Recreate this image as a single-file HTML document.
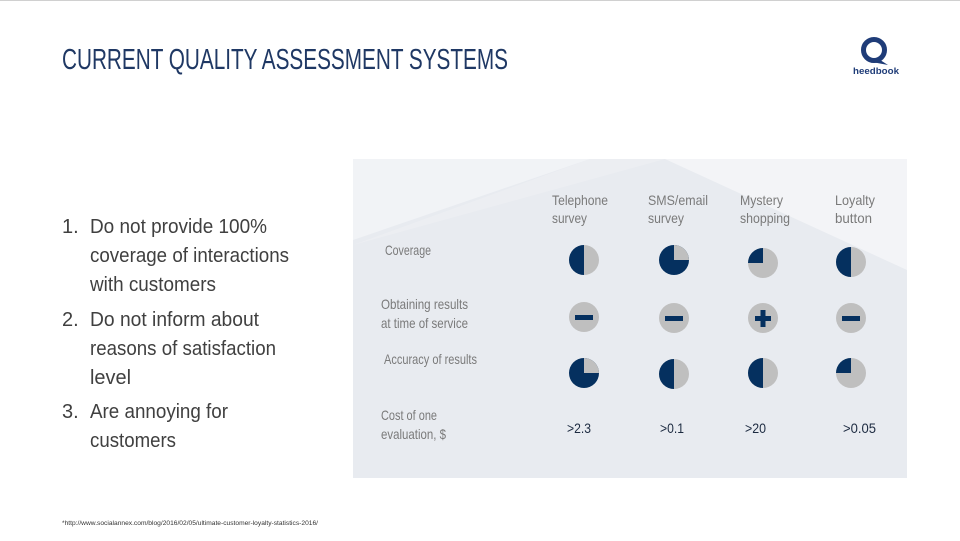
<!DOCTYPE html>
<html><head><meta charset="utf-8"><style>
html,body{margin:0;padding:0;background:#fff;}
svg{display:block;}
text{font-family:"Liberation Sans Narrow","Liberation Sans",sans-serif;}
</style></head><body>
<svg width="960" height="541" viewBox="0 0 960 541" xmlns="http://www.w3.org/2000/svg">
<rect x="0" y="0" width="960" height="541" fill="#fff"/>
<line x1="0" y1="0.5" x2="960" y2="0.5" stroke="#d0d0d0"/>
<text x="62" y="69" font-size="29" fill="#1f3864" textLength="446" lengthAdjust="spacingAndGlyphs">CURRENT QUALITY ASSESSMENT SYSTEMS</text>
<!-- logo -->
<circle cx="874" cy="50" r="10.5" fill="none" stroke="#1f3c78" stroke-width="5"/>
<path d="M877 58 L888 65 L872 62 Z" fill="#1f3c78"/>
<text x="853" y="74" font-size="9.5" font-weight="bold" fill="#1f3c78" textLength="46" lengthAdjust="spacingAndGlyphs">heedbook</text>
<!-- list -->
<g font-size="20" fill="#404040">
<text x="62" y="233">1.</text><text x="90" y="233" textLength="177" lengthAdjust="spacingAndGlyphs">Do not provide 100%</text>
<text x="90" y="262" textLength="199" lengthAdjust="spacingAndGlyphs">coverage of interactions</text>
<text x="90" y="291" textLength="126" lengthAdjust="spacingAndGlyphs">with customers</text>
<text x="62" y="326">2.</text><text x="90" y="326" textLength="169" lengthAdjust="spacingAndGlyphs">Do not inform about</text>
<text x="90" y="355" textLength="186" lengthAdjust="spacingAndGlyphs">reasons of satisfaction</text>
<text x="90" y="384" textLength="41" lengthAdjust="spacingAndGlyphs">level</text>
<text x="62" y="418">3.</text><text x="90" y="418" textLength="138" lengthAdjust="spacingAndGlyphs">Are annoying for</text>
<text x="90" y="447" textLength="86" lengthAdjust="spacingAndGlyphs">customers</text>
</g>
<!-- panel -->
<rect x="353" y="159" width="554" height="319" fill="#e8ebf0"/>
<polygon points="353,159 590,159 353,240" fill="#f1f3f6"/>
<polygon points="590,159 665,159 353,245" fill="#eceef2"/>
<polygon points="665,159 907,159 907,270" fill="#f3f4f7"/>
<g font-size="14" fill="#7a7a7a" lengthAdjust="spacingAndGlyphs">
<text x="552" y="205" textLength="56" lengthAdjust="spacingAndGlyphs">Telephone</text><text x="552" y="223" textLength="35" lengthAdjust="spacingAndGlyphs">survey</text>
<text x="648" y="205" textLength="60" lengthAdjust="spacingAndGlyphs">SMS/email</text><text x="648" y="223" textLength="36" lengthAdjust="spacingAndGlyphs">survey</text>
<text x="740" y="205" textLength="43" lengthAdjust="spacingAndGlyphs">Mystery</text><text x="740" y="223" textLength="50" lengthAdjust="spacingAndGlyphs">shopping</text>
<text x="835" y="205" textLength="40" lengthAdjust="spacingAndGlyphs">Loyalty</text><text x="835" y="223" textLength="37" lengthAdjust="spacingAndGlyphs">button</text>
<text x="385" y="255" textLength="46" lengthAdjust="spacingAndGlyphs">Coverage</text>
<text x="381" y="309" textLength="87" lengthAdjust="spacingAndGlyphs">Obtaining results</text><text x="381" y="328" textLength="87" lengthAdjust="spacingAndGlyphs">at time of service</text>
<text x="384" y="364" textLength="93" lengthAdjust="spacingAndGlyphs">Accuracy of results</text>
<text x="381" y="420" textLength="56" lengthAdjust="spacingAndGlyphs">Cost of one</text><text x="381" y="439" textLength="65" lengthAdjust="spacingAndGlyphs">evaluation, $</text>
</g>
<g font-size="14" fill="#1c2a40">
<text x="567" y="433" textLength="24" lengthAdjust="spacingAndGlyphs">&gt;2.3</text>
<text x="660" y="433" textLength="24" lengthAdjust="spacingAndGlyphs">&gt;0.1</text>
<text x="745" y="433" textLength="21" lengthAdjust="spacingAndGlyphs">&gt;20</text>
<text x="843" y="433" textLength="33" lengthAdjust="spacingAndGlyphs">&gt;0.05</text>
</g>
<g>
<circle cx="584" cy="260" r="15" fill="#bfbfbf"/><path d="M584 245 A15 15 0 0 0 584 275 Z" fill="#05305f"/>
<circle cx="674" cy="260" r="15" fill="#05305f"/><path d="M674 260 L674 245 A15 15 0 0 1 689 260 Z" fill="#bfbfbf"/>
<circle cx="763" cy="263" r="15" fill="#bfbfbf"/><path d="M763 263 L763 248 A15 15 0 0 0 748 263 Z" fill="#05305f"/>
<circle cx="851" cy="262" r="15" fill="#bfbfbf"/><path d="M851 247 A15 15 0 0 0 851 277 Z" fill="#05305f"/>
<circle cx="584" cy="317" r="15" fill="#bfbfbf"/><rect x="575" y="315" width="18" height="5" fill="#05305f"/>
<circle cx="674" cy="318" r="15" fill="#bfbfbf"/><rect x="665" y="316" width="18" height="5" fill="#05305f"/>
<circle cx="763" cy="318" r="15" fill="#bfbfbf"/><rect x="755" y="316" width="16" height="5" fill="#05305f"/><rect x="760.5" y="310" width="5" height="17" fill="#05305f"/>
<circle cx="851" cy="318" r="15" fill="#bfbfbf"/><rect x="842" y="316" width="18" height="5" fill="#05305f"/>
<circle cx="584" cy="373" r="15" fill="#05305f"/><path d="M584 373 L584 358 A15 15 0 0 1 599 373 Z" fill="#bfbfbf"/>
<circle cx="674" cy="374" r="15" fill="#bfbfbf"/><path d="M674 359 A15 15 0 0 0 674 389 Z" fill="#05305f"/>
<circle cx="763" cy="373" r="15" fill="#bfbfbf"/><path d="M763 358 A15 15 0 0 0 763 388 Z" fill="#05305f"/>
<circle cx="851" cy="373" r="15" fill="#bfbfbf"/><path d="M851 373 L851 358 A15 15 0 0 0 836 373 Z" fill="#05305f"/>
</g>
<text x="62" y="525" font-size="6" fill="#333" textLength="256" lengthAdjust="spacingAndGlyphs">*http://www.socialannex.com/blog/2016/02/05/ultimate-customer-loyalty-statistics-2016/</text>
</svg>
</body></html>
